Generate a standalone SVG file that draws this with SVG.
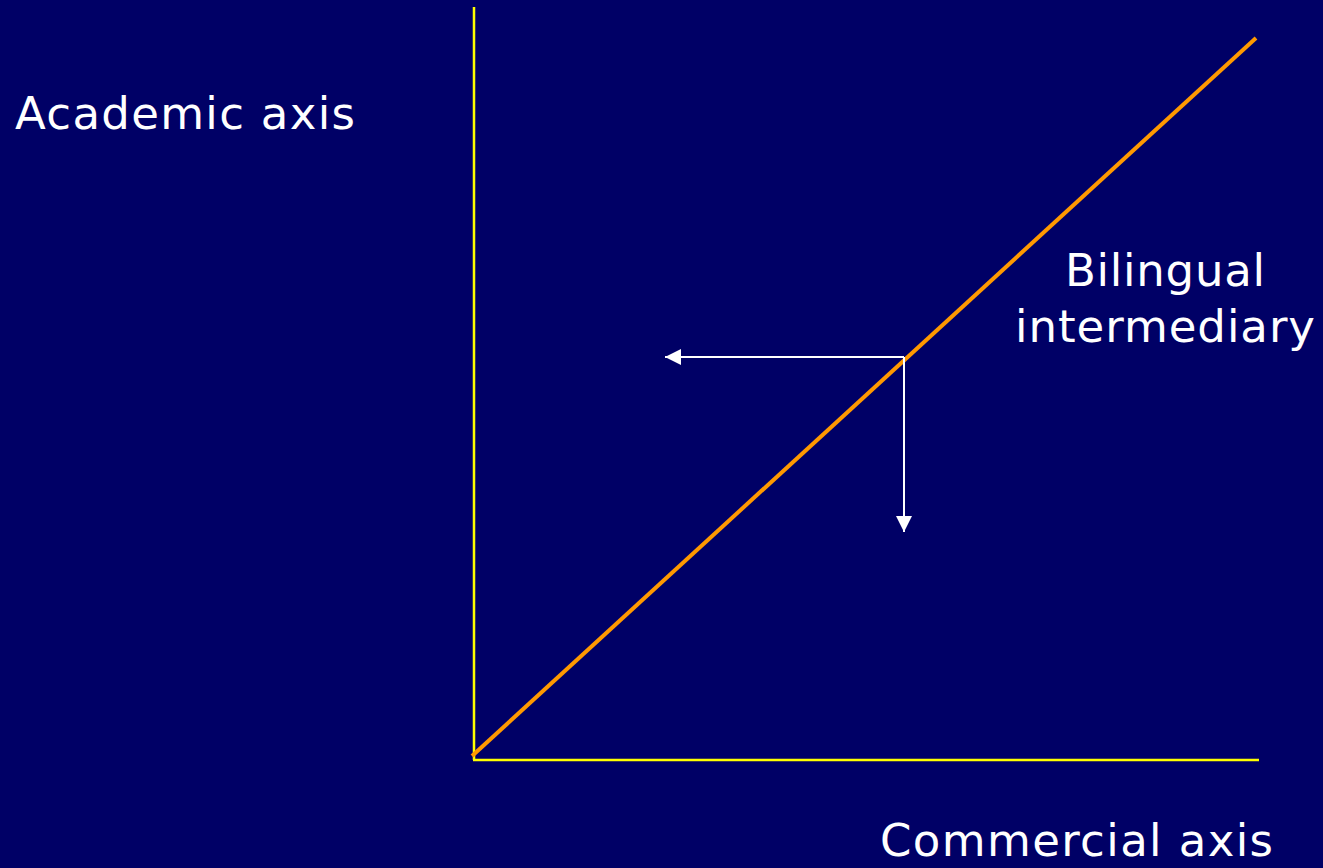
<svg xmlns="http://www.w3.org/2000/svg" width="1323" height="868" viewBox="0 0 1323 868">
<defs>
<style>
.lbl{font-family:"DejaVu Sans","Verdana",sans-serif;font-size:45px;fill:#FFFFFF}
.axis{stroke:#FFFF00;stroke-width:2.5;fill:none}
.diag{stroke:#FF9900;stroke-width:4;fill:none}
.arr{stroke:#FFFFFF;stroke-width:2;fill:none}
</style>
<marker id="ah" viewBox="0 0 10 10" refX="10" refY="5" markerUnits="userSpaceOnUse" markerWidth="16" markerHeight="16" orient="auto">
<path d="M0,0 L10,5 L0,10 z" fill="#FFFFFF"/>
</marker>
</defs>
<rect x="0" y="0" width="1323" height="868" fill="#000066"/>
<g id="connectors">
<line id="y-axis" class="axis" x1="474" y1="7" x2="474" y2="760"/>
<line id="x-axis" class="axis" x1="473" y1="760" x2="1259" y2="760"/>
<line id="diagonal" class="diag" x1="472" y1="756" x2="1256" y2="38"/>
<line id="arrow-left" class="arr" x1="904" y1="357" x2="665" y2="357" marker-end="url(#ah)"/>
<line id="arrow-down" class="arr" x1="904" y1="357" x2="904" y2="532" marker-end="url(#ah)"/>
</g>
<g id="academic-axis"><text class="lbl" x="15" y="129" textLength="340" lengthAdjust="spacing">Academic axis</text></g>
<g id="bilingual-intermediary">
<text class="lbl" x="1065" y="286" textLength="200" lengthAdjust="spacing">Bilingual</text>
<text class="lbl" x="1015" y="342" textLength="300" lengthAdjust="spacing">intermediary</text>
</g>
<g id="commercial-axis"><text class="lbl" x="880" y="856" textLength="393" lengthAdjust="spacing">Commercial axis</text></g>
</svg>
